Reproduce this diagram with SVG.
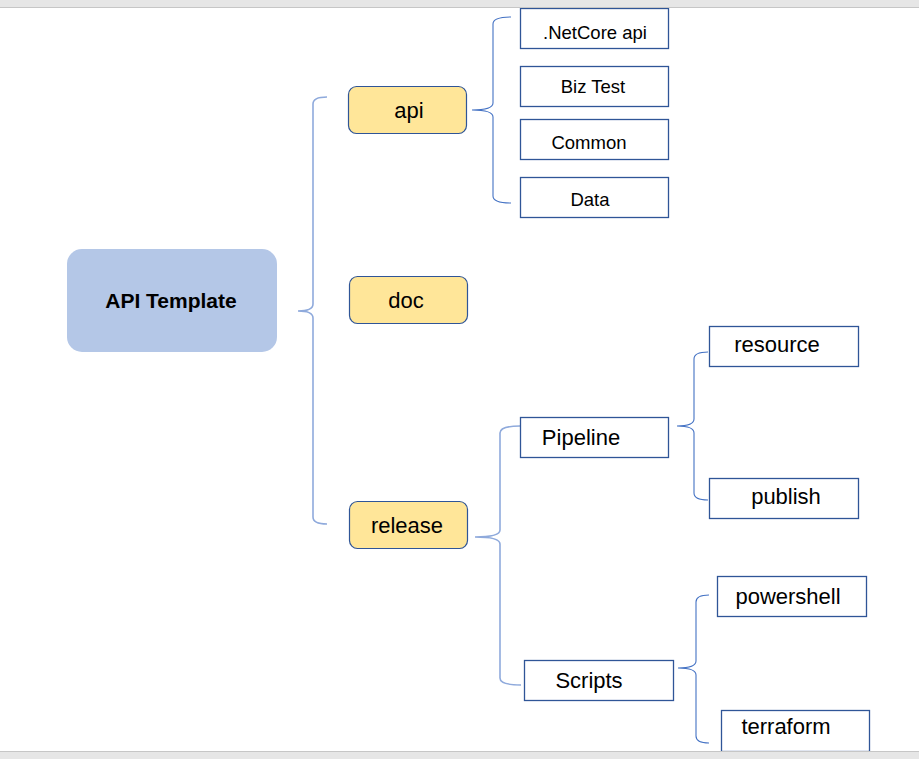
<svg xmlns="http://www.w3.org/2000/svg" width="919" height="759" viewBox="0 0 919 759">
<style>
text{font-family:"Liberation Sans",Arial,sans-serif;fill:#000;text-anchor:middle}
.main{fill:#b4c7e7}
.yel{fill:#ffe699;stroke:#2f5597;stroke-width:1.2}
.box{fill:#fff;stroke:#2f5597;stroke-width:1.3}
.b1{fill:none;stroke:#8faadc;stroke-width:1.6}
.b2{fill:none;stroke:#4472c4;stroke-width:1.1}
.t22{font-size:22px}
.t19{font-size:18.5px}
.bar{fill:#e6e6e6}
.barline{stroke:#c6c6c6;stroke-width:1.2}
</style>
<rect width="919" height="759" fill="#fff"/>
<g id="connectors">
<path class="b1" d="M327,97 Q313,97 313,104 V304 Q313,311 298,311 Q313,311 313,318 V517 Q313,524 327,524"/>
<path class="b2" d="M511,17 Q493,17 493,24 V103 Q493,110 472,110 Q493,110 493,117 V196 Q493,203 511,203"/>
<path class="b1" d="M520,426 Q500,426 500,433 V530 Q500,537 475,537 Q500,537 500,544 V678 Q500,685 521,685"/>
<path class="b2" d="M708,352 Q694,352 694,359 V419 Q694,426 677,426 Q694,426 694,433 V493 Q694,500 708,500"/>
<path class="b2" d="M709,595 Q696,595 696,602 V661 Q696,668 678,668 Q696,668 696,675 V736 Q696,743 709,743"/>
</g>
<g id="api-template"><rect class="main" x="67" y="249" width="210" height="103" rx="15"/><text x="171" y="308" font-size="21" font-weight="bold">API Template</text></g>
<g id="api"><rect class="yel" x="348.5" y="86.5" width="118" height="47" rx="8"/><text class="t22" x="409" y="118">api</text></g>
<g id="doc"><rect class="yel" x="349.5" y="276.5" width="118" height="47" rx="8"/><text class="t22" x="406" y="308">doc</text></g>
<g id="release"><rect class="yel" x="349.5" y="501.5" width="118" height="47" rx="8"/><text class="t22" x="407" y="533">release</text></g>
<g id="netcore"><rect class="box" x="520.5" y="8.5" width="148" height="40"/><text class="t19" x="595" y="39">.NetCore api</text></g>
<g id="biztest"><rect class="box" x="520.5" y="66.5" width="148" height="40"/><text class="t19" x="593" y="93">Biz Test</text></g>
<g id="common"><rect class="box" x="520.5" y="119.5" width="148" height="40"/><text class="t19" x="589" y="149">Common</text></g>
<g id="data"><rect class="box" x="520.5" y="177.5" width="148" height="40"/><text class="t19" x="590" y="206">Data</text></g>
<g id="pipeline"><rect class="box" x="520.5" y="417.5" width="148" height="40"/><text class="t22" x="581" y="445">Pipeline</text></g>
<g id="resource"><rect class="box" x="709.5" y="326.5" width="149" height="40"/><text class="t22" x="777" y="352">resource</text></g>
<g id="publish"><rect class="box" x="709.5" y="478.5" width="149" height="40"/><text class="t22" x="786" y="504">publish</text></g>
<g id="scripts"><rect class="box" x="524.5" y="660.5" width="149" height="40"/><text class="t22" x="589" y="688">Scripts</text></g>
<g id="powershell"><rect class="box" x="717.5" y="576.5" width="149" height="40"/><text class="t22" x="788" y="604">powershell</text></g>
<g id="terraform"><rect class="box" x="721.5" y="710.5" width="148" height="41"/><text class="t22" x="786" y="734">terraform</text></g>
<g id="frame">
<rect class="bar" x="0" y="0" width="919" height="7"/>
<line class="barline" x1="0" y1="7.5" x2="919" y2="7.5"/>
<rect class="bar" x="0" y="751" width="919" height="8"/>
<line class="barline" x1="0" y1="751.5" x2="919" y2="751.5"/>
</g>
</svg>
